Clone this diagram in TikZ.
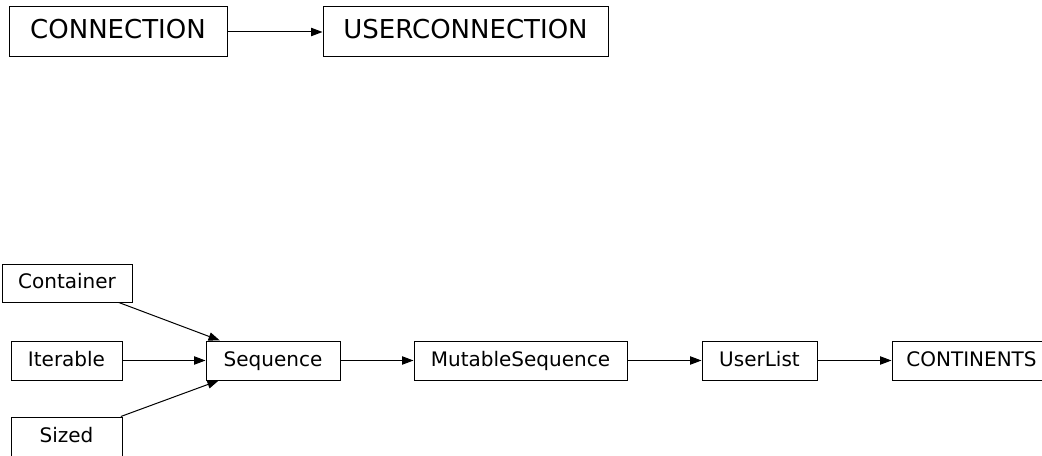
\documentclass[tikz,border=0pt]{standalone}
\usepackage{fontspec}
\setmainfont{DejaVu Sans}
\usetikzlibrary{arrows.meta}
\begin{document}
\begin{tikzpicture}[x=0.75pt,y=-0.75pt,
  box/.style={draw, line width=0.75pt, inner sep=0pt, minimum height=29.25pt,
              text height=11pt, text depth=2.75pt,
              font=\fontsize{15}{18}\selectfont},
  bigbox/.style={box, minimum height=37.5pt, text height=14pt, text depth=3.5pt,
                 font=\fontsize{19.5}{23}\selectfont},
  link/.style={-{Triangle[length=8.5pt,width=6.2pt]}, line width=0.75pt}]
\useasboundingbox (0,0) rectangle (1042,456);

% upper chain
\node[bigbox, minimum width=163.5pt]  (conn)     at (118,32)    {CONNECTION};
\node[bigbox, minimum width=213.75pt] (userconn) at (465.5,32)  {USERCONNECTION};
\draw[link] (conn) -- (userconn);

% lower chain
\node[box, minimum width=97.5pt, minimum height=28.5pt] (container) at (67,283) {Container};
\node[box, minimum width=83.25pt]  (iterable) at (66.5,360.5)  {Iterable};
\node[box, minimum width=83.25pt]  (sized)    at (66.5,436.5)  {Sized};
\node[box, minimum width=100.5pt]  (seq)      at (273,360.5)   {Sequence};
\node[box, minimum width=159.75pt] (mutseq)   at (520.5,360.5) {MutableSequence};
\node[box, minimum width=86.25pt]  (userlist) at (759.5,360.5) {UserList};
\node[box, minimum width=119.25pt] (cont)     at (971.5,360.5) {CONTINENTS};

\draw[link] (container) -- (seq);
\draw[link] (iterable) -- (seq);
\draw[link] (sized) -- (seq);
\draw[link] (seq) -- (mutseq);
\draw[link] (mutseq) -- (userlist);
\draw[link] (userlist) -- (cont);
\end{tikzpicture}
\end{document}
